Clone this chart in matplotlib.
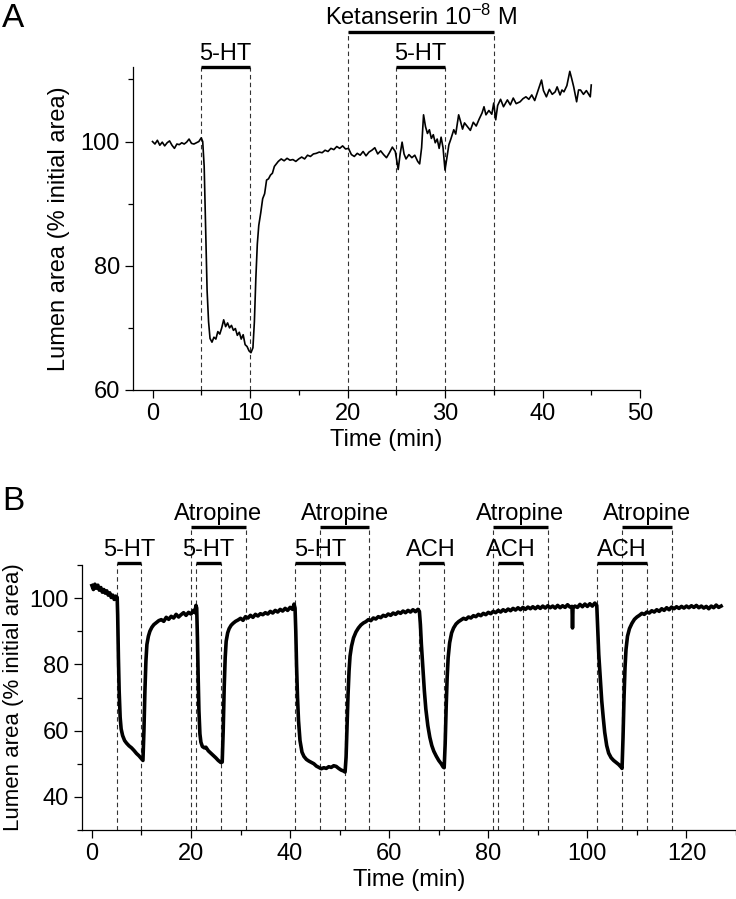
import numpy as np
import matplotlib
matplotlib.use("Agg")
import matplotlib.pyplot as plt
from matplotlib.ticker import MultipleLocator

plt.rcParams['font.family'] = ['Liberation Sans', 'DejaVu Sans']
plt.rcParams['mathtext.default'] = 'regular'

# ---- painel A: registro com ketanserina ----
tempo_a = [0.0, 0.25, 0.5, 0.75, 1.0, 1.25, 1.5, 1.75, 2.0, 2.25, 2.5, 2.75, 3.0, 3.25, 3.5,
           3.75, 4.0, 4.25, 4.5, 4.75, 5.0, 5.15, 5.3, 5.45, 5.6, 5.75, 5.9, 6.1, 6.3, 6.5,
           6.7, 6.9, 7.1, 7.3, 7.5, 7.7, 7.9, 8.1, 8.3, 8.5, 8.7, 8.9, 9.1, 9.3, 9.5, 9.7,
           9.9, 10.1, 10.3, 10.45, 10.6, 10.75, 10.9, 11.1, 11.3, 11.5, 11.7, 11.9, 12.1,
           12.3, 12.5, 12.7, 12.9, 13.2, 13.5, 13.8, 14.1, 14.4, 14.7, 15.0, 15.3, 15.6,
           15.9, 16.2, 16.5, 16.8, 17.1, 17.4, 17.7, 18.0, 18.3, 18.6, 18.9, 19.2, 19.5,
           19.8, 20.1, 20.4, 20.7, 21.0, 21.3, 21.6, 21.9, 22.2, 22.5, 22.8, 23.1, 23.4,
           23.7, 24.0, 24.3, 24.6, 24.9, 25.2, 25.4, 25.6, 25.8, 26.0, 26.3, 26.6, 26.9,
           27.2, 27.4, 27.6, 27.8, 28.0, 28.2, 28.4, 28.6, 28.8, 29.0, 29.2, 29.4, 29.6,
           29.8, 30.0, 30.2, 30.4, 30.6, 30.9, 31.1, 31.4, 31.6, 31.8, 32.0, 32.3, 32.6,
           32.9, 33.2, 33.5, 33.8, 34.0, 34.2, 34.5, 34.8, 35.0, 35.2, 35.4, 35.7, 36.0,
           36.4, 36.7, 37.0, 37.3, 37.7, 38.0, 38.3, 38.6, 38.9, 39.2, 39.5, 39.9, 40.1,
           40.4, 40.7, 41.0, 41.3, 41.5, 41.8, 42.0, 42.2, 42.5, 42.8, 43.0, 43.2, 43.5,
           43.7, 43.9, 44.2, 44.5, 44.7, 44.9, 45.0]
area_a = [100.0, 99.6, 100.2, 99.4, 99.9, 99.3, 99.8, 100.1, 99.4, 98.9, 99.6, 99.5, 99.8,
          99.6, 99.9, 100.4, 99.7, 99.6, 99.8, 100.0, 100.6, 100.0, 96.0, 86.0, 76.0, 71.0,
          68.3, 67.7, 68.5, 68.2, 69.4, 69.0, 70.0, 71.3, 70.2, 70.8, 70.0, 70.4, 69.6,
          69.9, 68.8, 69.3, 68.2, 68.9, 67.3, 67.0, 66.3, 66.0, 66.8, 71.0, 78.0, 83.5,
          86.5, 88.5, 90.8, 91.6, 93.8, 94.0, 94.6, 94.9, 96.0, 96.4, 96.8, 97.2, 96.9,
          97.3, 97.0, 97.1, 96.8, 97.2, 97.5, 97.2, 97.8, 97.6, 98.0, 98.1, 98.3, 98.2,
          98.6, 98.4, 98.9, 98.7, 99.2, 98.9, 99.3, 98.8, 98.9, 97.9, 97.6, 98.1, 97.8,
          98.4, 97.7, 98.3, 98.6, 99.0, 98.0, 98.5, 97.9, 97.4, 98.2, 99.1, 98.4, 95.5,
          98.0, 99.9, 98.0, 97.2, 97.9, 97.4, 97.8, 96.8, 96.4, 99.0, 104.3, 102.4, 101.3,
          101.9, 100.5, 101.1, 99.8, 100.4, 98.9, 100.7, 99.0, 95.4, 97.5, 99.5, 100.4,
          101.9, 101.2, 104.3, 103.2, 102.0, 103.0, 102.4, 101.8, 103.1, 102.5, 103.6,
          104.6, 105.6, 104.3, 105.0, 104.4, 106.2, 103.5, 105.8, 106.8, 105.6, 106.7,
          105.9, 107.0, 106.1, 106.4, 106.9, 107.2, 106.8, 107.5, 106.6, 108.0, 109.9,
          108.2, 107.2, 108.4, 107.6, 108.0, 108.8, 107.5, 108.3, 108.0, 109.0, 111.3,
          110.1, 108.8, 106.4, 108.3, 108.3, 107.6, 108.2, 107.7, 107.2, 109.1]

# barras de tratamento do painel A
barra_a_ini = [5, 25, 20]
barra_a_fim = [10, 30, 35]
barra_a_rot = ['5-HT', '5-HT', r'Ketanserin 10$^{-8}$ M']
barra_a_nivel = [112.0, 112.0, 117.6]

# ---- painel B: 5-HT / ACH com atropina ----
tempo_b = [0.0, 0.3, 0.6, 0.9, 1.2, 1.5, 1.8, 2.1, 2.4, 2.7, 3.0, 3.3, 3.6, 3.9, 4.2, 4.5,
           4.8, 5.1,
           5.2, 5.35, 5.5, 5.7, 5.9, 6.2, 6.6, 7.0, 7.5, 8.0, 8.5, 9.0, 9.5, 10.0, 10.3,
           10.5, 10.7, 10.9, 11.1, 11.4, 11.7, 12.1, 12.5, 13.0, 13.5, 14.0, 14.5, 15.0,
           15.5, 16.0, 16.5, 17.0, 17.5, 18.0, 18.5, 19.0, 19.5, 20.0, 20.5, 20.8, 21.0,
           21.15,
           21.3, 21.45, 21.6, 21.8, 22.0, 22.3, 22.7, 23.0, 23.5, 24.0, 24.5, 25.0, 25.5,
           26.0, 26.3,
           26.5, 26.7, 26.9, 27.1, 27.4, 27.7, 28.1, 28.5, 29.0, 29.5, 30.0, 30.5, 31.0,
           31.5, 32.0, 32.5, 33.0, 33.5, 34.0, 34.5, 35.0, 35.5, 36.0, 36.5, 37.0, 37.5,
           38.0, 38.5, 39.0, 39.5, 40.0, 40.5, 40.8, 41.0,
           41.15, 41.3, 41.5, 41.7, 42.0, 42.4, 42.8, 43.3, 43.8, 44.3, 44.8, 45.3, 45.8,
           46.3, 46.8, 47.3, 47.8, 48.3, 48.8, 49.3, 49.8, 50.3, 50.8, 51.1,
           51.3, 51.5, 51.7, 51.9, 52.1, 52.4, 52.8, 53.3, 53.8, 54.3, 54.8, 55.3, 55.8,
           56.3, 56.8, 57.3, 57.8, 58.3, 58.8, 59.3, 59.8, 60.3, 60.8, 61.3, 61.8, 62.3,
           62.8, 63.3, 63.8, 64.3, 64.8, 65.3, 65.8, 66.1,
           66.3, 66.5, 66.8, 67.1, 67.4, 67.8, 68.2, 68.6, 69.0, 69.5, 70.0, 70.5, 70.9,
           71.1,
           71.3, 71.5, 71.7, 71.9, 72.2, 72.6, 73.0, 73.5, 74.0, 74.5, 75.0, 75.5, 76.0,
           76.5, 77.0, 77.5, 78.0, 78.5, 79.0, 79.5, 80.0, 80.5, 81.0, 81.5, 82.0, 82.5,
           83.0, 83.5, 84.0, 84.5, 85.0, 85.5, 86.0, 86.5, 87.0, 87.5, 88.0, 88.5, 89.0,
           89.5, 90.0, 90.5, 91.0, 91.5, 92.0, 92.5, 93.0, 93.5, 94.0, 94.5, 95.0, 95.5,
           96.0, 96.5, 96.9, 97.0, 97.1, 97.5, 98.0, 98.5, 99.0, 99.5, 100.0, 100.5, 101.0,
           101.5, 101.9,
           102.1, 102.3, 102.6, 102.9, 103.2, 103.5, 103.9, 104.3, 104.8, 105.3, 105.8,
           106.3, 106.8, 107.0,
           107.2, 107.4, 107.6, 107.8, 108.1, 108.5, 109.0, 109.5, 110.0, 110.5, 111.0,
           111.5, 112.0, 112.5, 113.0, 113.5, 114.0, 114.5, 115.0, 115.5, 116.0, 116.5,
           117.0, 117.5, 118.0, 118.5, 119.0, 119.5, 120.0, 120.5, 121.0, 121.5, 122.0,
           122.5, 123.0, 123.5, 124.0, 124.5, 125.0, 125.5, 126.0, 126.5, 127.0]
area_b = [103.8, 102.6, 104.2, 103.0, 103.9, 102.4, 103.2, 101.8, 102.6, 101.5, 102.2, 100.9,
          101.6, 100.2, 100.9, 99.6, 100.6, 100.2,
          95.0, 82.0, 72.0, 64.0, 60.5, 58.5, 57.0, 56.2, 55.4, 54.8, 54.0, 53.1, 52.4,
          51.5, 51.0,
          60.0, 72.0, 81.0, 86.0, 88.5, 90.0, 91.2, 92.0, 92.6, 93.2, 93.5, 93.0, 94.2,
          93.6, 94.5, 94.0, 95.1, 94.3, 95.0, 95.6, 94.8, 95.7, 95.2, 96.3, 95.6, 97.8,
          97.0,
          88.0, 76.0, 66.0, 59.0, 56.5, 55.2, 54.8, 55.0, 53.9, 53.2, 52.5, 51.8, 51.0,
          50.4, 50.5,
          60.0, 73.0, 82.0, 87.0, 89.5, 90.8, 91.8, 92.4, 93.0, 93.4, 93.9, 93.3, 94.4,
          94.0, 94.8, 94.2, 95.1, 94.6, 95.3, 95.0, 95.6, 95.2, 96.0, 95.5, 96.3, 95.8,
          96.6, 96.1, 96.9, 96.3, 97.2, 96.6, 98.2, 97.0,
          90.0, 80.0, 70.0, 63.0, 57.0, 53.5, 52.2, 51.3, 50.8, 50.4, 50.0, 49.3, 48.9,
          48.5, 48.8, 48.6, 49.1, 48.9, 49.4, 49.2, 48.6, 48.1, 47.8, 47.5,
          52.0, 62.0, 71.0, 78.0, 82.5, 85.5, 88.0, 89.8, 91.0, 91.9, 92.5, 92.9, 93.5,
          93.2, 94.0, 93.7, 94.4, 94.1, 94.8, 94.5, 95.2, 94.8, 95.5, 95.1, 95.8, 95.4,
          96.1, 95.6, 96.3, 95.8, 96.5, 95.9, 96.6, 96.0,
          92.0, 86.0, 79.0, 72.0, 66.5, 61.5, 58.0, 55.5, 53.8, 52.3, 51.0, 50.0, 49.0,
          48.8,
          56.0, 67.0, 76.0, 82.0, 86.5, 89.5, 91.0, 92.2, 92.9, 93.4, 93.9, 93.6, 94.3,
          94.0, 94.7, 94.4, 95.1, 94.7, 95.4, 95.0, 95.7, 95.3, 96.0, 95.6, 96.3, 95.8,
          96.5, 96.0, 96.7, 96.2, 96.9, 96.4, 97.1, 96.5, 97.2, 96.6, 97.3, 96.8, 97.4,
          96.8, 97.5, 96.9, 97.6, 97.0, 97.7, 97.1, 97.6, 97.0, 97.8, 97.1, 97.7, 97.2,
          98.0, 97.3, 97.5, 91.0, 97.0, 97.6, 97.2, 98.1, 97.4, 98.2, 97.5, 98.3, 97.6,
          98.5, 97.8,
          90.0, 83.0, 76.0, 69.0, 64.0, 59.5, 55.5, 53.2, 51.8, 51.0, 50.4, 49.8, 49.0,
          48.6,
          58.0, 70.0, 79.0, 84.5, 88.5, 90.8, 92.4, 93.6, 94.3, 94.8, 95.4, 95.1, 95.8,
          95.5, 96.2, 95.8, 96.5, 96.0, 96.8, 96.3, 97.1, 96.5, 97.3, 96.8, 97.4, 96.9,
          97.5, 97.0, 97.6, 97.1, 97.7, 97.2, 97.8, 97.1, 97.6, 97.0, 97.5, 96.8, 97.6,
          97.1, 97.9, 97.2, 97.6]

# barras do painel B (nivel baixo = agonista, nivel alto = atropina)
barra_b_ini = [5, 21, 41, 66, 82, 102, 20, 46, 81, 107]
barra_b_fim = [10, 26, 51, 71, 87, 112, 31, 56, 92, 117]
barra_b_rot = ['5-HT', '5-HT', '5-HT', 'ACH', 'ACH', 'ACH',
               'Atropine', 'Atropine', 'Atropine', 'Atropine']
barra_b_nivel = [110.6] * 6 + [121.5] * 4

W, H = 736, 899
fig = plt.figure(figsize=(W / 100, H / 100), dpi=100)

ax_a = fig.add_axes([133 / W, 1 - 390 / H, (640 - 133) / W, (390 - 67) / H])
ax_b = fig.add_axes([82 / W, 1 - 830 / H, (736 - 82) / W, (830 - 565) / H])


def desenha_barras(ax, ini, fim, rot, nivel, y0):
    for a, b, r, n in zip(ini, fim, rot, nivel):
        ax.plot([a, b], [n, n], color='black', lw=2.4, solid_capstyle='butt',
                clip_on=False, zorder=4)
        for x in (a, b):
            ax.plot([x, x], [y0, n], color='#333333', lw=0.8, ls=(0, (4, 3)),
                    clip_on=False, zorder=1)
        ax.annotate(r, xy=((a + b) / 2, n), xytext=(0, 5), textcoords='offset points',
                    ha='center', va='baseline', fontsize=17, annotation_clip=False)


def estilo_eixo(ax):
    for lado in ('top', 'right'):
        ax.spines[lado].set_visible(False)
    for lado in ('left', 'bottom'):
        ax.spines[lado].set_linewidth(0.9)
    ax.tick_params(which='major', direction='out', length=6, width=0.9, pad=3.5,
                   labelsize=17)
    ax.tick_params(which='minor', direction='out', length=3.5, width=0.9)
    ax.set_xlabel('Time (min)', fontsize=17, labelpad=3)


# painel A
ax_a.plot(tempo_a, area_a, color='black', lw=1.2, zorder=3)
desenha_barras(ax_a, barra_a_ini, barra_a_fim, barra_a_rot, barra_a_nivel, 60)
ax_a.set_xlim(-2, 50)
ax_a.set_ylim(60, 112)
ax_a.xaxis.set_major_locator(MultipleLocator(10))
ax_a.xaxis.set_minor_locator(MultipleLocator(5))
ax_a.yaxis.set_major_locator(MultipleLocator(20))
ax_a.yaxis.set_minor_locator(MultipleLocator(10))
estilo_eixo(ax_a)
ax_a.set_ylabel('Lumen area (% initial area)', fontsize=17)
ax_a.yaxis.set_label_coords(-0.124, 0.5)

# painel B
ax_b.plot(tempo_b, area_b, color='black', lw=2.6, zorder=3)
desenha_barras(ax_b, barra_b_ini, barra_b_fim, barra_b_rot, barra_b_nivel, 30)
ax_b.set_xlim(-2, 130)
ax_b.set_ylim(30, 110)
ax_b.xaxis.set_major_locator(MultipleLocator(20))
ax_b.xaxis.set_minor_locator(MultipleLocator(10))
ax_b.yaxis.set_major_locator(MultipleLocator(20))
ax_b.yaxis.set_minor_locator(MultipleLocator(10))
estilo_eixo(ax_b)
ax_b.set_ylabel('Lumen area (% initial area)', fontsize=16)
ax_b.yaxis.set_label_coords(-0.088, 0.5)

fig.text(2 / W, 1 - 3 / H, 'A', fontsize=24, ha='left', va='top')
fig.text(2 / W, 1 - 486 / H, 'B', fontsize=24, ha='left', va='top')

fig.savefig('out.png', dpi=100)
